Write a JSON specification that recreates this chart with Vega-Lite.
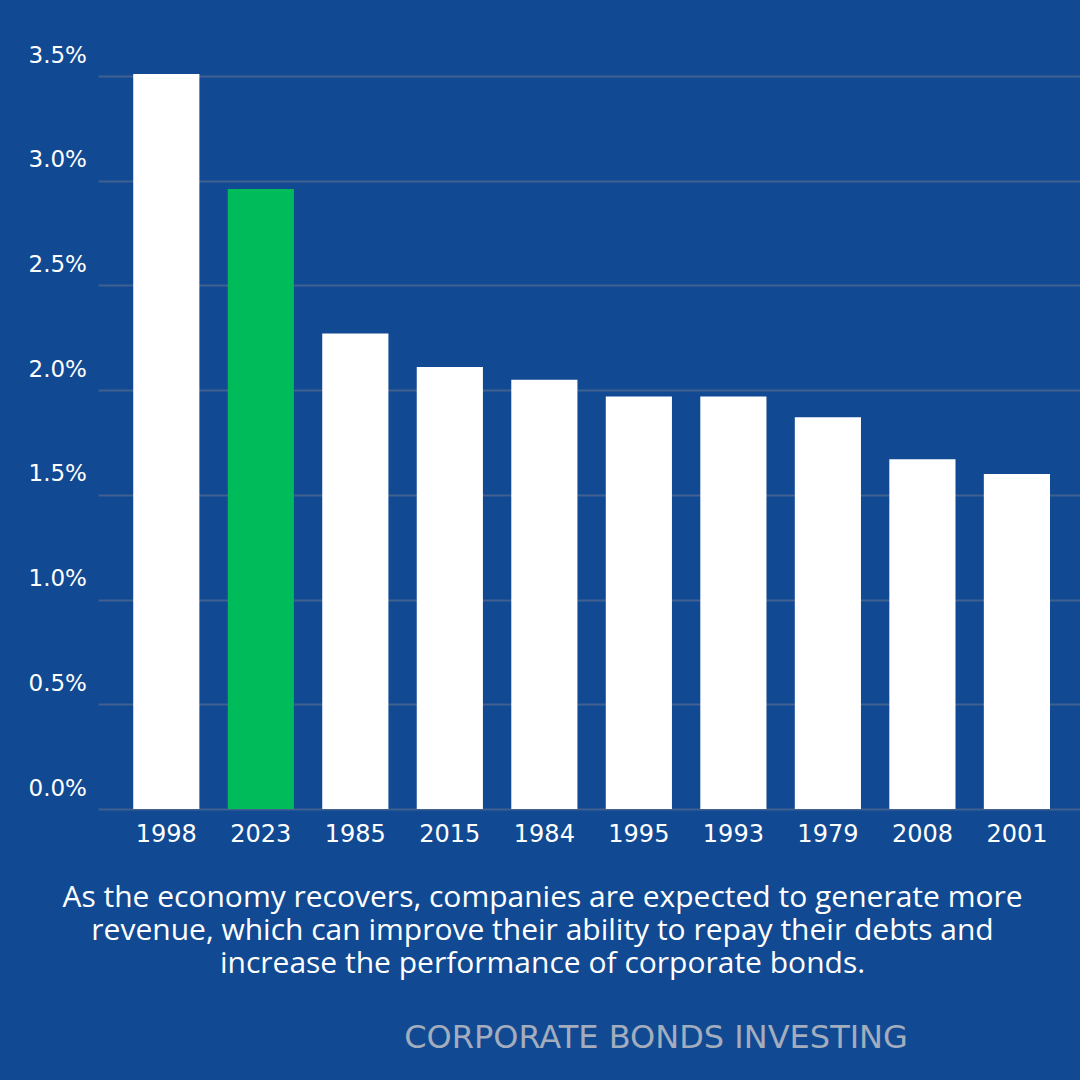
{
  "$schema": "https://vega.github.io/schema/vega-lite/v6.json",
  "autosize": {"type": "none"},
  "width": 982,
  "height": 733,
  "padding": {"left": 98, "top": 76, "right": 0, "bottom": 271},
  "background": "#114a93",
  "data": {
    "values": [
      {"year": "1998", "value": 3.51},
      {"year": "2023", "value": 2.96},
      {"year": "1985", "value": 2.27},
      {"year": "2015", "value": 2.11},
      {"year": "1984", "value": 2.05},
      {"year": "1995", "value": 1.97},
      {"year": "1993", "value": 1.97},
      {"year": "1979", "value": 1.87},
      {"year": "2008", "value": 1.67},
      {"year": "2001", "value": 1.60}
    ]
  },
  "title": {
    "text": "CORPORATE BONDS INVESTING",
    "orient": "bottom",
    "anchor": "middle",
    "frame": "group",
    "dx": 67,
    "offset": 45,
    "font": "DejaVu Sans",
    "fontSize": 32,
    "fontWeight": "normal",
    "color": "#a3adbd",
    "baseline": "top"
  },
  "mark": {"type": "bar"},
  "encoding": {
    "x": {
      "field": "year",
      "type": "nominal",
      "sort": null,
      "scale": {"paddingInner": 0.3, "paddingOuter": 0.345, "align": 0.54},
      "axis": {
        "domain": false,
        "ticks": false,
        "labelAngle": 0,
        "labelFont": "DejaVu Sans",
        "labelFontSize": 24,
        "labelColor": "#ffffff",
        "labelPadding": 13,
        "title": [
          "As the economy recovers, companies are expected to generate more",
          "revenue, which can improve their ability to repay their debts and",
          "increase the performance of corporate bonds."
        ],
        "titleFont": "Open Sans",
        "titleFontSize": 30,
        "titleFontWeight": 500,
        "titleColor": "#ffffff",
        "titleLineHeight": 33,
        "titleX": 444,
        "titleY": 73,
        "titleAlign": "center",
        "titleBaseline": "top"
      }
    },
    "y": {
      "field": "value",
      "type": "quantitative",
      "scale": {"domain": [0, 3.5], "nice": false},
      "axis": {
        "values": [0, 0.5, 1, 1.5, 2, 2.5, 3, 3.5],
        "labelExpr": "format(datum.value / 100, '.1%')",
        "domain": false,
        "ticks": false,
        "grid": true,
        "gridColor": "#40608f",
        "gridWidth": 2,
        "labelAlign": "left",
        "labelBaseline": "alphabetic",
        "labelOffset": -14,
        "labelPadding": 70,
        "labelFont": "DejaVu Sans",
        "labelFontSize": 23,
        "labelColor": "#ffffff",
        "title": null
      }
    },
    "color": {
      "condition": {"test": "datum.year === '2023'", "value": "#00bb5a"},
      "value": "#ffffff"
    }
  },
  "config": {
    "view": {"stroke": null},
    "bar": {"stroke": null}
  }
}
